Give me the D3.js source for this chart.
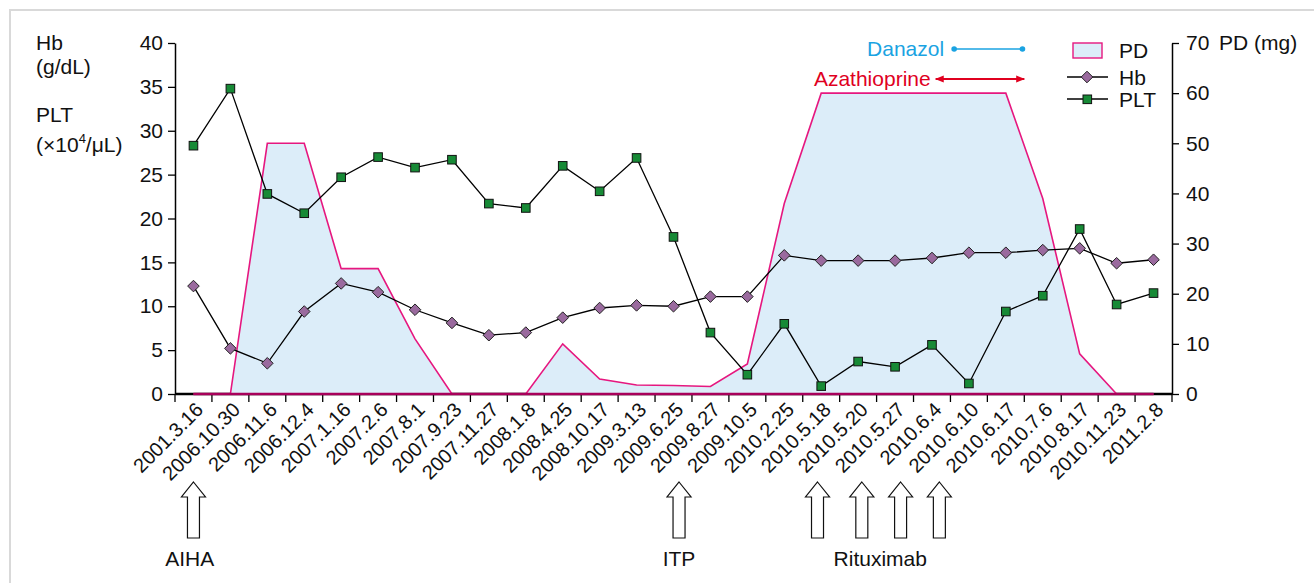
<!DOCTYPE html>
<html>
<head>
<meta charset="utf-8">
<script src="https://cdn.jsdelivr.net/npm/d3@7"></script>
<style>
  body { margin: 0; background: #fff; }
  svg { font-family: "Liberation Sans", Arial, sans-serif; }
</style>
</head>
<body>
<div id="chart"></div>
<script>
// visit dates (categories)
const dates = ['2001.3.16', '2006.10.30', '2006.11.6', '2006.12.4', '2007.1.16', '2007.2.6',
    '2007.8.1', '2007.9.23', '2007.11.27', '2008.1.8', '2008.4.25', '2008.10.17', '2009.3.13',
    '2009.6.25', '2009.8.27', '2009.10.5', '2010.2.25', '2010.5.18', '2010.5.20', '2010.5.27',
    '2010.6.4', '2010.6.10', '2010.6.17', '2010.7.6', '2010.8.17', '2010.11.23', '2011.2.8'];

// Hb (g/dL)
const hbValues = [12.3, 5.2, 3.5, 9.4, 12.6, 11.6, 9.6, 8.1, 6.7, 7.0, 8.7, 9.8, 10.1, 10.0,
    11.1, 11.1, 15.8, 15.2, 15.2, 15.2, 15.5, 16.1, 16.1, 16.4, 16.6, 14.9, 15.3];

// PLT (x10^4/uL)
const pltValues = [28.3, 34.8, 22.8, 20.6, 24.7, 27.0, 25.8, 26.7, 21.7, 21.2, 26.0, 23.1, 26.9,
    17.9, 7.0, 2.2, 8.0, 0.9, 3.7, 3.1, 5.6, 1.2, 9.4, 11.2, 18.8, 10.2, 11.5];

// PD dose (mg)
const pdValues = [0, 0, 50, 50, 25, 25, 11, 0, 0, 0, 10, 3, 1.8, 1.7, 1.5, 6, 38, 60, 60, 60,
    60, 60, 60, 39, 8, 0, 0];

const leftTicks = [0, 5, 10, 15, 20, 25, 30, 35, 40];
const rightTicks = [0, 10, 20, 30, 40, 50, 60, 70];

// event arrows under the axis (position in category index units)
const events = [
    {label: 'AIHA', arrows: [0], labelAt: -0.1},
    {label: 'ITP', arrows: [13.15], labelAt: 13.15},
    {label: 'Rituximab', arrows: [16.9, 18.1, 19.15, 20.2], labelAt: 18.6}
];

// drug bars (category index units)
const danazol = [20.6, 22.45];
const azathioprine = [20.1, 22.5];

const W = 1314, H = 583;
const margin = {top: 43, right: 142, bottom: 189, left: 175};
const width = W - margin.left - margin.right;
const height = H - margin.top - margin.bottom;
const fs = 21;

const svg = d3.select('#chart').append('svg')
    .attr('width', W)
    .attr('height', H);

// outer frame
svg.append('rect')
    .attr('x', 10).attr('y', 10)
    .attr('width', W + 50).attr('height', H + 50)
    .attr('fill', 'none')
    .attr('stroke', '#d9d9d9')
    .attr('stroke-width', 2);

const g = svg.append('g').attr('transform', `translate(${margin.left},${margin.top})`);

const x = d3.scaleBand().domain(dates).range([0, width]);
const xi = d3.scaleLinear().domain([-0.5, dates.length - 0.5]).range([0, width]);
const cx = d => x(d) + x.bandwidth() / 2;

const yL = d3.scaleLinear().domain([0, 40]).range([height, 0]);
const yR = d3.scaleLinear().domain([0, 70]).range([height, 0]);

// axes
const leftAxis = g.append('g')
    .call(d3.axisLeft(yL).tickValues(leftTicks).tickSize(7).tickSizeOuter(0));
const rightAxis = g.append('g')
    .attr('transform', `translate(${width},0)`)
    .call(d3.axisRight(yR).tickValues(rightTicks).tickSize(7).tickSizeOuter(0));

[leftAxis, rightAxis].forEach(a => {
    a.select('.domain').attr('stroke', '#000').attr('stroke-width', 1.5);
    a.selectAll('.tick line').attr('stroke', '#000').attr('stroke-width', 1.3);
    a.selectAll('.tick text').attr('font-size', fs).attr('fill', '#111')
        .attr('font-family', '"Liberation Sans", Arial, sans-serif');
});
leftAxis.selectAll('.tick text').attr('x', -12);
rightAxis.selectAll('.tick text').attr('x', 14);

// bottom axis line + band boundary ticks
g.append('line')
    .attr('x1', 0).attr('x2', width)
    .attr('y1', height).attr('y2', height)
    .attr('stroke', '#000').attr('stroke-width', 2.5);

g.selectAll('.bticks')
    .data(dates.map(d => x(d)).concat([width]))
    .enter().append('line')
    .attr('x1', d => d).attr('x2', d => d)
    .attr('y1', height).attr('y2', height + 8)
    .attr('stroke', '#000').attr('stroke-width', 1.3);

// PD area
const pdData = dates.map((d, i) => ({d: d, v: pdValues[i]}));
g.append('path')
    .datum(pdData)
    .attr('d', d3.area().x(p => cx(p.d)).y0(height).y1(p => yR(p.v)))
    .attr('fill', '#dcedf9');
g.append('path')
    .datum(pdData)
    .attr('d', d3.line().x(p => cx(p.d)).y(p => yR(p.v)))
    .attr('fill', 'none')
    .attr('stroke', '#e6177f')
    .attr('stroke-width', 1.6);
g.append('line')
    .attr('x1', cx(dates[0])).attr('x2', cx(dates[dates.length - 1]))
    .attr('y1', height).attr('y2', height)
    .attr('stroke', '#a8005a').attr('stroke-width', 2.5);

// Hb and PLT lines
const hbData = dates.map((d, i) => ({d: d, v: hbValues[i]}));
const pltData = dates.map((d, i) => ({d: d, v: pltValues[i]}));

g.append('path')
    .datum(hbData)
    .attr('d', d3.line().x(p => cx(p.d)).y(p => yL(p.v)))
    .attr('fill', 'none').attr('stroke', '#000').attr('stroke-width', 1.3);
g.append('path')
    .datum(pltData)
    .attr('d', d3.line().x(p => cx(p.d)).y(p => yL(p.v)))
    .attr('fill', 'none').attr('stroke', '#000').attr('stroke-width', 1.3);

const diamond = 'M0,-5.8L5.8,0L0,5.8L-5.8,0Z';
g.selectAll('.hb')
    .data(hbData)
    .enter().append('path')
    .attr('class', 'hb')
    .attr('d', diamond)
    .attr('transform', p => `translate(${cx(p.d)},${yL(p.v)})`)
    .attr('fill', '#9a6a9e').attr('stroke', '#222').attr('stroke-width', 1);

g.selectAll('.plt')
    .data(pltData)
    .enter().append('rect')
    .attr('class', 'plt')
    .attr('x', p => cx(p.d) - 4.3).attr('y', p => yL(p.v) - 4.3)
    .attr('width', 8.6).attr('height', 8.6)
    .attr('fill', '#178a36').attr('stroke', '#111').attr('stroke-width', 1);

// x labels rotated
g.selectAll('.xlab')
    .data(dates)
    .enter().append('text')
    .attr('class', 'xlab')
    .attr('transform', d => `translate(${cx(d) + 11},${height + 17}) rotate(-45)`)
    .attr('text-anchor', 'end')
    .attr('font-size', 20)
    .attr('fill', '#111')
    .text(d => d);

// axis titles
const lt = svg.append('g').attr('font-size', fs).attr('fill', '#111');
lt.append('text').attr('x', 36).attr('y', 50).text('Hb');
lt.append('text').attr('x', 36).attr('y', 74).text('(g/dL)');
lt.append('text').attr('x', 36).attr('y', 122).text('PLT');
const unit = lt.append('text').attr('x', 36).attr('y', 152);
unit.append('tspan').text('(\u00d710');
unit.append('tspan').attr('font-size', 13).attr('dy', -9).text('4');
unit.append('tspan').attr('dy', 9).text('/\u03bcL)');

svg.append('text')
    .attr('x', 1219).attr('y', 50)
    .attr('font-size', fs).attr('fill', '#111')
    .text('PD (mg)');

// drug bars
const dy = yR(70);
const danY = dy + 6, azaY = dy + 36;
g.append('line')
    .attr('x1', xi(danazol[0])).attr('x2', xi(danazol[1]))
    .attr('y1', danY).attr('y2', danY)
    .attr('stroke', '#1aa3e2').attr('stroke-width', 1.3);
g.selectAll('.dandot')
    .data(danazol)
    .enter().append('circle')
    .attr('cx', d => xi(d)).attr('cy', danY).attr('r', 2.8)
    .attr('fill', '#1aa3e2');
g.append('text')
    .attr('x', xi(danazol[0]) - 10).attr('y', danY + 7)
    .attr('text-anchor', 'end')
    .attr('font-size', fs).attr('fill', '#1aa3e2')
    .text('Danazol');

svg.append('defs').append('marker')
    .attr('id', 'ah')
    .attr('viewBox', '0 0 10 10')
    .attr('refX', 9).attr('refY', 5)
    .attr('markerWidth', 5).attr('markerHeight', 5)
    .attr('orient', 'auto-start-reverse')
    .append('path').attr('d', 'M0,1L10,5L0,9Z').attr('fill', '#e0001f');
g.append('line')
    .attr('x1', xi(azathioprine[0])).attr('x2', xi(azathioprine[1]))
    .attr('y1', azaY).attr('y2', azaY)
    .attr('stroke', '#e0001f').attr('stroke-width', 1.8)
    .attr('marker-start', 'url(#ah)').attr('marker-end', 'url(#ah)');
g.append('text')
    .attr('x', xi(azathioprine[0]) - 5).attr('y', azaY + 7)
    .attr('text-anchor', 'end')
    .attr('font-size', fs).attr('fill', '#e0001f')
    .text('Azathioprine');

// legend
const lg = svg.append('g').attr('font-size', fs).attr('fill', '#111');
lg.append('rect')
    .attr('x', 1073).attr('y', 43).attr('width', 29).attr('height', 15)
    .attr('fill', '#dcedf9').attr('stroke', '#e6177f').attr('stroke-width', 1.4);
lg.append('text').attr('x', 1119).attr('y', 58).text('PD');
[['Hb', 77], ['PLT', 99]].forEach(([name, yy]) => {
    lg.append('line').attr('x1', 1067).attr('x2', 1108).attr('y1', yy).attr('y2', yy)
        .attr('stroke', '#000').attr('stroke-width', 1.3);
    lg.append('text').attr('x', 1119).attr('y', yy + 8).text(name);
});
lg.append('path').attr('d', diamond).attr('transform', 'translate(1087,77)')
    .attr('fill', '#9a6a9e').attr('stroke', '#222');
lg.append('rect').attr('x', 1083).attr('y', 95).attr('width', 8.6).attr('height', 8.6)
    .attr('fill', '#178a36').attr('stroke', '#111');

// event arrows
const arrowTop = 482, arrowBot = 538;
const arrowPath = (ax) => {
    const hw = 12, sw = 6, hh = 15;
    return `M${ax},${arrowTop}L${ax + hw},${arrowTop + hh}L${ax + sw},${arrowTop + hh}` +
        `L${ax + sw},${arrowBot}L${ax - sw},${arrowBot}L${ax - sw},${arrowTop + hh}` +
        `L${ax - hw},${arrowTop + hh}Z`;
};
events.forEach(ev => {
    ev.arrows.forEach(a => {
        svg.append('path')
            .attr('d', arrowPath(margin.left + xi(a)))
            .attr('fill', '#fff').attr('stroke', '#111').attr('stroke-width', 1.2);
    });
    svg.append('text')
        .attr('x', margin.left + xi(ev.labelAt)).attr('y', 566)
        .attr('text-anchor', 'middle')
        .attr('font-size', fs).attr('fill', '#111')
        .text(ev.label);
});
</script>
</body>
</html>
